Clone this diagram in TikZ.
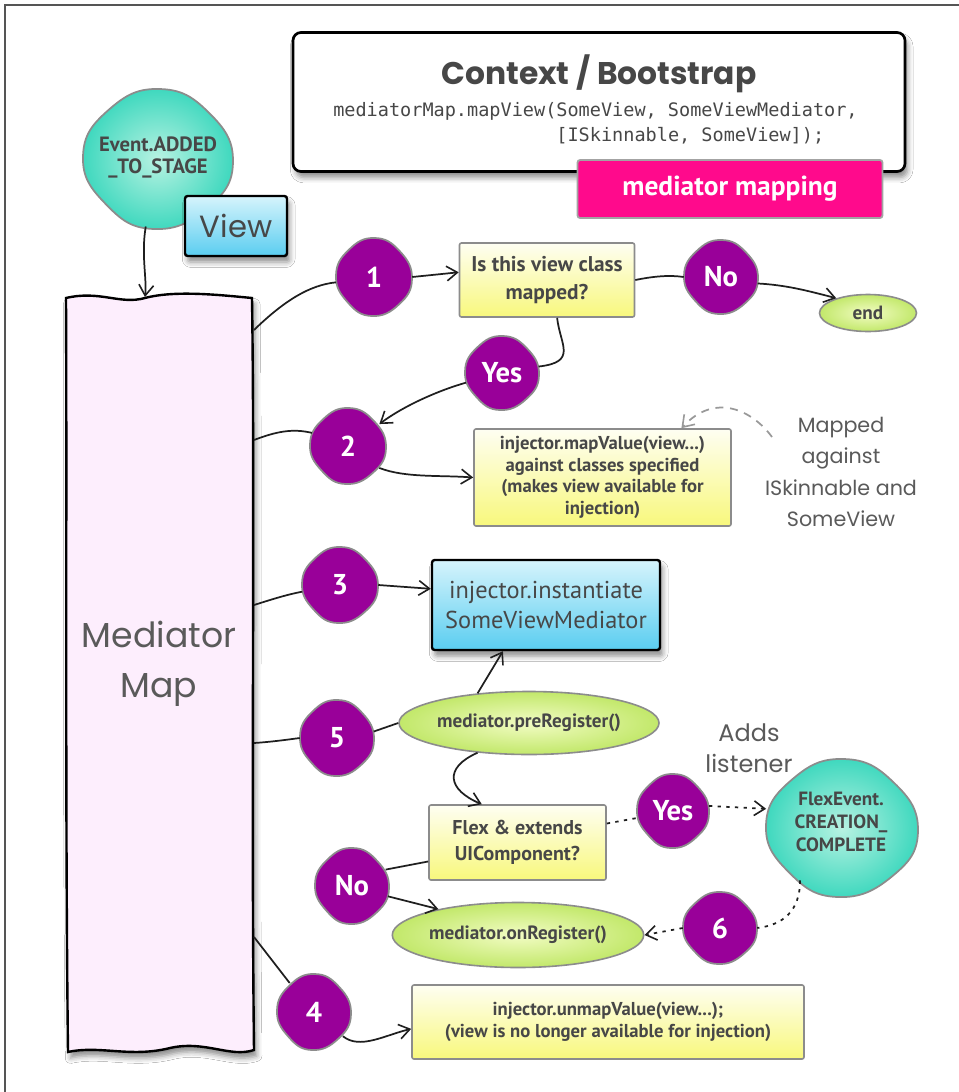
\documentclass[tikz,border=0pt]{standalone}
\usepackage{fontspec}
\setmainfont{PT Sans}
\newfontfamily\handfont{Poppins}
\newfontfamily\codefont{DejaVu Sans Mono}
\usetikzlibrary{arrows.meta,shapes.geometric,shadows.blur}

\definecolor{ink}{HTML}{474747}
\definecolor{plum}{HTML}{990099}
\definecolor{rim}{HTML}{8C8C8C}
\definecolor{hotpink}{HTML}{FF0A8C}
\definecolor{mmfill}{HTML}{FDEEFD}
\definecolor{yeltop}{HTML}{FEFEF2}
\definecolor{yelbot}{HTML}{F8F87C}
\definecolor{bluetop}{HTML}{D6F4FC}
\definecolor{bluebot}{HTML}{5ACDF0}
\definecolor{tealin}{HTML}{B8F2E2}
\definecolor{tealout}{HTML}{3ED8BE}
\definecolor{greenin}{HTML}{F2FCC4}
\definecolor{greenout}{HTML}{C2E86A}
\definecolor{framegray}{HTML}{555555}

\newcommand\fsz[2]{\fontsize{#1}{#2}\selectfont}

% irregular rounded blob: #1 style, #2 x, #3 y, #4 rx, #5 ry
\newcommand\drawblob[5]{%
  \path[#1] plot[smooth cycle, tension=0.8] coordinates {
    ({#2+0.02*#4},{#3-#5}) ({#2+0.68*#4},{#3-0.66*#5}) ({#2+#4},{#3+0.04*#5})
    ({#2+0.66*#4},{#3+0.70*#5}) ({#2-0.06*#4},{#3+#5}) ({#2-0.70*#4},{#3+0.64*#5})
    ({#2-#4},{#3-0.04*#5}) ({#2-0.66*#4},{#3-0.70*#5})};}

% purple step marker: #1 name, #2 x, #3 y, #4 rx, #5 ry, #6 label
\newcommand\numblob[6]{%
  \drawblob{numfill}{#2}{#3}{#4}{#5}
  \node[blobtext, minimum width={#4*1.5pt}, minimum height={#5*1.5pt}] (#1) at (#2,#3) {#6};}

\begin{document}
\begin{tikzpicture}[x=0.75pt, y=-0.75pt,
  wh/.style 2 args={minimum width={#1*0.75pt}, minimum height={#2*0.75pt}},
  numfill/.style={fill=plum, draw=rim, line width=1.3pt},
  blobtext/.style={ellipse, inner sep=0pt, text=white, font=\bfseries\fsz{21.5pt}{24pt}},
  tealblob/.style={inner color=tealin, outer color=tealout, draw=rim, line width=1.3pt},
  conn/.style={line width=1.3pt, draw=black!88},
  arr/.style={conn, -{Straight Barb[length=8pt, width=11pt, line width=1.2pt]}},
  dotconn/.style={conn, dash pattern=on 2.5pt off 4pt},
  dotarr/.style={dotconn, -{Straight Barb[length=8pt, width=11pt, line width=1.2pt]}},
  notearrow/.style={line width=1.3pt, draw=gray!80, dash pattern=on 6pt off 5pt,
     -{Straight Barb[length=8pt, width=11pt, line width=1.2pt]}},
  softshadow/.style={blur shadow={shadow xshift=2pt, shadow yshift=-4.5pt,
     shadow blur radius=4pt, shadow opacity=45}},
  ybox/.style={draw=rim, line width=1.2pt, top color=yeltop, bottom color=yelbot,
     rounded corners=1.5pt, align=center, text=ink, inner sep=0pt},
  bbox/.style={draw=black, line width=1.8pt, top color=bluetop, bottom color=bluebot,
     rounded corners=2pt, align=center, text=ink, inner sep=0pt, softshadow},
  gelli/.style={ellipse, draw=rim, line width=1.2pt, inner color=greenin, outer color=greenout,
     text=ink, font=\bfseries\fsz{14.4pt}{16pt}, inner sep=0pt},
  ctxbox/.style={draw=black, line width=2pt, fill=white, rounded corners=6pt, softshadow},
  pinkbox/.style={fill=hotpink, draw=rim!80, line width=1.4pt, rounded corners=2pt,
     text=white, font=\bfseries\fsz{20.6pt}{23pt}, inner sep=0pt},
  handnote/.style={font=\handfont\fsz{15.5pt}{23.5pt}, text=ink!90, align=center}
]
\useasboundingbox (0,0) rectangle (959,1092);
\fill[white] (0,0) rectangle (959,1092);
\draw[framegray, line width=0.8pt] (5,1092) -- (5,5) -- (959,5);

% --- context / bootstrap header
\node[ctxbox, wh={612}{139}] (ctx) at (599,102) {};
\node[font=\handfont\bfseries\fsz{23.5pt}{27pt}, text=ink] (title) at (599,74) {Context / Bootstrap};
\node[font=\codefont\fsz{13.9pt}{18.75pt}, text=ink, align=left, anchor=west, inner sep=0pt]
  (code) at (333,124) {mediatorMap.mapView(SomeView, SomeViewMediator,\\\phantom{mediatorMap.mapView(}[ISkinnable, SomeView]);};
\node[pinkbox, wh={305}{58}] (mapping) at (730,189) {mediator mapping};

% --- event and view
\drawblob{tealblob}{158}{159}{75}{70}
\node[ellipse, inner sep=0pt, wh={150}{140}, align=center, text=ink,
  font=\bfseries\fsz{15.5pt}{16.5pt}] (ev) at (158,157) {Event.ADDED\\\_TO\_STAGE};
\node[bbox, wh={102}{60}, font=\handfont\fsz{23pt}{26pt}] (view) at (236,226) {View};

% --- mediator map column
\path[draw=black, line width=1.8pt, fill=mmfill, softshadow]
  (66,298) .. controls (100,290) and (120,305) .. (145,298)
  .. controls (175,290) and (220,295) .. (252,298)
  .. controls (255,500) and (251,800) .. (254,1050)
  .. controls (230,1058) and (205,1040) .. (170,1048)
  .. controls (130,1058) and (100,1045) .. (68,1052)
  .. controls (65,800) and (67,500) .. (66,298) -- cycle;
\node[font=\handfont\fsz{26pt}{37.5pt}, text=ink!90, align=center] (mm) at (159,664) {Mediator\\Map};
\coordinate (mmtop) at (145,297);
\coordinate (mm1) at (254,330);
\coordinate (mm2) at (254,440);
\coordinate (mm3) at (254,605);
\coordinate (mm5) at (254,743);
\coordinate (mm4) at (254,937);

% --- step 1
\numblob{c1}{374}{277}{38}{39}{1}
\node[ybox, wh={175}{74}, font=\bfseries\fsz{16pt}{21pt}] (q1) at (547,280) {Is this view class\\mapped?};
\numblob{no1}{721}{277}{37}{37}{No}
\node[gelli, wh={97}{37}] (endn) at (868,313) {end};
\numblob{yes1}{502}{373}{37}{37}{Yes}

% --- step 2
\numblob{c2}{348}{446}{38}{38}{2}
\node[ybox, wh={257}{97}, font=\bfseries\fsz{14pt}{16.2pt}] (mv) at (602.5,477.5)
  {injector.mapValue(view...)\\against classes specified\\(makes view available for\\injection)};
\node[handnote] (mapped) at (841,472) {Mapped\\against\\ISkinnable and\\SomeView};
\coordinate (mapnote) at (772,437);

% --- step 3
\numblob{c3}{340}{585}{38}{38}{3}
\node[bbox, wh={228}{90}, font=\fsz{18.3pt}{22pt}] (inst) at (546,605) {injector.instantiate\\SomeViewMediator};

% --- step 5
\numblob{c5}{337}{738}{37}{38}{5}
\node[gelli, wh={216}{63}] (pre) at (529,723) {mediator.preRegister()};
\node[handnote, font=\handfont\fsz{18pt}{23.5pt}] (adds) at (749,748) {Adds\\listener};
\node[ybox, wh={177}{75}, font=\bfseries\fsz{15pt}{20pt}] (flex) at (517.5,842.5) {Flex \& extends\\UIComponent?};
\numblob{yes2}{673}{811}{36}{37}{Yes}
\drawblob{tealblob}{842}{828}{76}{69}
\node[ellipse, inner sep=0pt, wh={152}{138}, align=center, text=ink,
  font=\bfseries\fsz{14.4pt}{17pt}] (fe) at (841,822) {FlexEvent.\\CREATION\_\\COMPLETE};
\numblob{no2}{352}{886}{37}{38}{No}
\node[gelli, wh={214}{65}] (onreg) at (518,935) {mediator.onRegister()};
\numblob{c6}{720}{928}{37}{36}{6}

% --- step 4
\numblob{c4}{314}{1012}{37}{38}{4}
\node[ybox, wh={392}{74}, font=\bfseries\fsz{14pt}{16.5pt}] (unmap) at (608,1022)
  {injector.unmapValue(view...);\\(view is no longer available for injection)};

% --- connectors
\draw[arr] (ev.-100) .. controls (141,255) and (147,278) .. (mmtop);

\draw[conn] (mm1) .. controls (285,300) and (310,285) .. (c1.188);
\draw[arr] (c1.east) -- (q1.175);
\draw[conn] (q1.east) .. controls (655,276) and (670,275) .. (no1.west);
\draw[arr] (no1.-10) .. controls (785,285) and (805,290) .. (endn.155);
\draw[conn] (q1.-75) .. controls (560,345) and (578,362) .. (yes1.10);
\draw[arr] (yes1.195) .. controls (440,390) and (405,405) .. (c2.35);

\draw[conn] (mm2) .. controls (275,432) and (292,428) .. (c2.160);
\draw[arr] (c2.-35) .. controls (405,478) and (440,475) .. (mv.west);
\draw[notearrow] (mapnote) .. controls (752,410) and (715,392) .. (mv.32);

\draw[conn] (mm3) .. controls (270,600) and (285,595) .. (c3.190);
\draw[arr] (c3.east) -- (inst.172);
\draw[arr] (pre.150) -- (inst.-133);

\draw[conn] (mm5) .. controls (270,742) and (285,740) .. (c5.west);
\draw[conn] (c5.10) -- (pre.west);
\draw[arr] (pre.210) .. controls (443,768) and (448,790) .. (flex.133);
\draw[dotconn] (flex.12) -- (yes2.191);
\draw[dotarr] (yes2.8) -- (fe.170);
\draw[dotconn] (fe.-125) .. controls (800,912) and (782,925) .. (c6.east);
\draw[dotarr] (c6.west) -- (onreg.east);
\draw[conn] (flex.192) -- (no2.26);
\draw[arr] (no2.-16) -- (onreg.162);

\draw[conn] (mm4) -- (c4.130);
\draw[arr] (c4.-40) .. controls (360,1050) and (385,1035) .. (unmap.182);
\end{tikzpicture}
\end{document}
